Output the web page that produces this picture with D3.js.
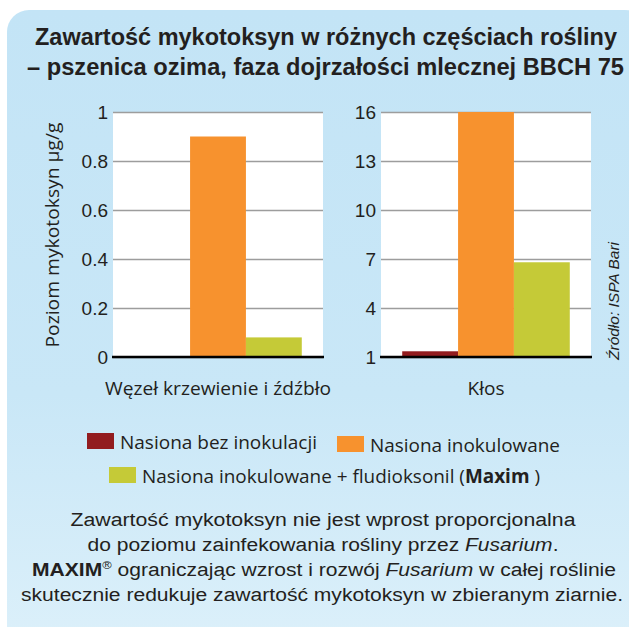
<!DOCTYPE html>
<html>
<head>
<meta charset="utf-8">
<script src="https://cdn.jsdelivr.net/npm/d3@7"></script>
<style>
  body { margin: 0; background: #fff; }
</style>
</head>
<body>
<div id="chart"></div>
<script>
// data
var categories = ["Węzeł krzewienie i źdźbło", "Kłos"];
var seriesNames = ["Nasiona bez inokulacji", "Nasiona inokulowane", "Nasiona inokulowane + fludioksonil"];
var seriesColors = ["#921c1f", "#f7922e", "#c5ca37"];
var stemValues = [0, 0.9, 0.08];     // węzeł, źdźbło
var earValues = [1.35, 16, 6.8];     // kłos
var stemTicks = [0, 0.2, 0.4, 0.6, 0.8, 1];
var earTicks = [1, 4, 7, 10, 13, 16];

var W = 629, H = 627;
var ink = "#231f20";
var helv = "'Liberation Sans', Arial, sans-serif";
var myriad = "'Open Sans', 'Noto Sans', sans-serif";

var svg = d3.select("#chart").append("svg")
    .attr("width", W)
    .attr("height", H);

// background panel
var grad = svg.append("defs").append("linearGradient")
    .attr("id", "bg").attr("x1", 0).attr("y1", 0).attr("x2", 0).attr("y2", 1);
grad.append("stop").attr("offset", "0%").attr("stop-color", "#c3e4f6");
grad.append("stop").attr("offset", "60%").attr("stop-color", "#c9e7f7");
grad.append("stop").attr("offset", "100%").attr("stop-color", "#dcf0fa");

svg.append("rect")
    .attr("x", 7).attr("y", 10)
    .attr("width", 640).attr("height", 640)
    .attr("rx", 22)
    .attr("fill", "url(#bg)");

// title
var title = ["Zawartość mykotoksyn w różnych częściach rośliny",
             "– pszenica ozima, faza dojrzałości mlecznej BBCH 75"];
svg.selectAll(".title")
    .data(title)
    .enter().append("text")
    .attr("class", "title")
    .attr("x", function (d, i) { return i === 0 ? 35 : 27; })
    .attr("y", function (d, i) { return 45 + i * 30; })
    .attr("textLength", function (d, i) { return i === 0 ? 582 : 597; })
    .attr("lengthAdjust", "spacingAndGlyphs")
    .style("font-family", helv)
    .style("font-weight", "bold")
    .style("font-size", "23px")
    .style("fill", ink)
    .text(function (d) { return d; });

// one bar panel
function drawPanel(x0, values, ticks, label, labelWidth) {
    var pw = 210, top = 112, bottom = 357;
    var g = svg.append("g").attr("transform", `translate(${x0}, 0)`);

    var y = d3.scaleLinear()
        .domain([ticks[0], ticks[ticks.length - 1]])
        .range([bottom, top]);
    var x = d3.scaleBand()
        .domain(d3.range(values.length))
        .range([0, pw])
        .paddingInner(0)
        .paddingOuter(0.38);

    g.append("rect")
        .attr("x", 0).attr("y", top)
        .attr("width", pw).attr("height", bottom - top)
        .attr("fill", "#fff");

    var ax = g.append("g")
        .call(d3.axisLeft(y).tickValues(ticks).tickSize(-pw).tickPadding(5)
            .tickFormat(function (d) { return String(d); }));
    ax.select(".domain").remove();
    ax.selectAll(".tick line")
        .attr("stroke", "#9d9d9d")
        .attr("stroke-width", 1.6);
    ax.selectAll(".tick text")
        .style("font-family", helv)
        .style("font-size", "19px")
        .style("fill", ink);

    g.selectAll(".bar")
        .data(values)
        .enter().append("rect")
        .attr("class", "bar")
        .attr("x", function (d, i) { return x(i); })
        .attr("width", x.bandwidth())
        .attr("y", function (d) { return y(d); })
        .attr("height", function (d) { return y(ticks[0]) - y(d); })
        .attr("fill", function (d, i) { return seriesColors[i]; });

    g.append("line")
        .attr("x1", -1).attr("x2", pw + 1)
        .attr("y1", y(ticks[0])).attr("y2", y(ticks[0]))
        .attr("stroke", "#000")
        .attr("stroke-width", 2.6);

    var lab = g.append("text")
        .attr("x", pw / 2)
        .attr("y", 395)
        .attr("text-anchor", "middle")
        .style("font-family", myriad)
        .style("font-size", "19px")
        .style("fill", ink)
        .text(label);
    if (labelWidth) lab.attr("textLength", labelWidth).attr("lengthAdjust", "spacingAndGlyphs");
    return g;
}

drawPanel(113, stemValues, stemTicks, categories[0], 226);
drawPanel(381, earValues, earTicks, categories[1], 37);

// y axis title
svg.append("text")
    .attr("transform", "translate(59, 235) rotate(-90)")
    .attr("text-anchor", "middle")
    .attr("textLength", 225)
    .attr("lengthAdjust", "spacingAndGlyphs")
    .style("font-family", myriad)
    .style("font-size", "19px")
    .style("fill", ink)
    .text("Poziom mykotoksyn µg/g");

// source
svg.append("text")
    .attr("transform", "translate(619, 360) rotate(-90)")
    .attr("textLength", 118)
    .attr("lengthAdjust", "spacingAndGlyphs")
    .style("font-family", helv)
    .style("font-style", "italic")
    .style("font-size", "14px")
    .style("fill", ink)
    .text("Źródło: ISPA Bari");

// legend
var legendPos = [[87, 433, 197], [337, 436, 190], [109, 467, 398]];
var leg = svg.selectAll(".leg")
    .data(seriesNames)
    .enter().append("g")
    .attr("class", "leg")
    .attr("transform", function (d, i) { return `translate(${legendPos[i][0]}, ${legendPos[i][1]})`; });
leg.append("rect")
    .attr("width", 27).attr("height", 16)
    .attr("fill", function (d, i) { return seriesColors[i]; });
var legText = leg.append("text")
    .attr("x", 33).attr("y", 16)
    .attr("textLength", function (d, i) { return legendPos[i][2]; })
    .attr("lengthAdjust", "spacingAndGlyphs")
    .style("font-family", myriad)
    .style("font-size", "19px")
    .style("fill", ink);
legText.append("tspan").text(function (d) { return d; });
legText.filter(function (d, i) { return i === 2; }).each(function () {
    var t = d3.select(this);
    t.append("tspan").text(" (");
    t.append("tspan").style("font-weight", "bold").text("Maxim");
    t.append("tspan").text(" )");
});

// bottom note
var note = svg.append("g")
    .style("font-family", helv)
    .style("font-size", "18px")
    .style("fill", ink)
    .attr("text-anchor", "middle");

note.append("text").attr("x", 323).attr("y", 526)
    .attr("textLength", 505).attr("lengthAdjust", "spacingAndGlyphs")
    .text("Zawartość mykotoksyn nie jest wprost proporcjonalna");

var n2 = note.append("text").attr("x", 323).attr("y", 551)
    .attr("textLength", 471).attr("lengthAdjust", "spacingAndGlyphs");
n2.append("tspan").text("do poziomu zainfekowania rośliny przez ");
n2.append("tspan").style("font-style", "italic").text("Fusarium");
n2.append("tspan").text(".");

var n3 = note.append("text").attr("x", 324).attr("y", 576)
    .attr("textLength", 584).attr("lengthAdjust", "spacingAndGlyphs");
n3.append("tspan").style("font-weight", "bold").text("MAXIM");
n3.append("tspan").attr("dy", -7).style("font-size", "11px").text("®");
n3.append("tspan").attr("dy", 7).text(" ograniczając wzrost i rozwój ");
n3.append("tspan").style("font-style", "italic").text("Fusarium");
n3.append("tspan").text(" w całej roślinie");

note.append("text").attr("x", 322).attr("y", 601)
    .attr("textLength", 602).attr("lengthAdjust", "spacingAndGlyphs")
    .text("skutecznie redukuje zawartość mykotoksyn w zbieranym ziarnie.");
</script>
</body>
</html>
